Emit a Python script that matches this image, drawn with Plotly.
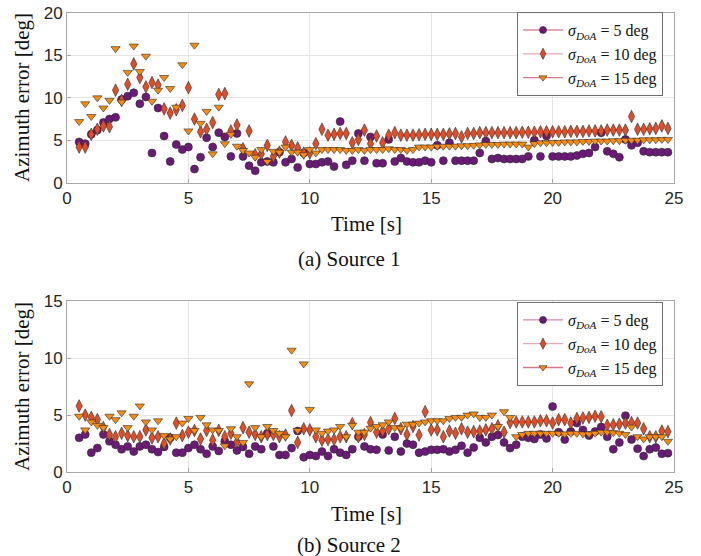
import plotly.graph_objects as go

TIME = [0.5, 0.75,
        1.0, 1.25, 1.5, 1.75, 2.0, 2.25, 2.5, 2.75, 3.0, 3.25, 3.5, 3.75,
        4.0, 4.25, 4.5, 4.75, 5.0, 5.25, 5.5, 5.75, 6.0, 6.25, 6.5, 6.75,
        7.0, 7.25, 7.5, 7.75, 8.0, 8.25, 8.5, 8.75, 9.0, 9.25, 9.5, 9.75,
        10.0, 10.25, 10.5, 10.75, 11.0, 11.25, 11.5, 11.75, 12.0, 12.25, 12.5, 12.75,
        13.0, 13.25, 13.5, 13.75, 14.0, 14.25, 14.5, 14.75, 15.0, 15.25, 15.5, 15.75,
        16.0, 16.25, 16.5, 16.75, 17.0, 17.25, 17.5, 17.75, 18.0, 18.25, 18.5, 18.75,
        19.0, 19.25, 19.5, 19.75, 20.0, 20.25, 20.5, 20.75, 21.0, 21.25, 21.5, 21.75,
        22.0, 22.25, 22.5, 22.75, 23.0, 23.25, 23.5, 23.75, 24.0, 24.25, 24.5, 24.75]

# Source 1
S1_SIGMA5 = [4.8, 4.6,
             5.7, 6.2, 7.1, 7.5, 7.7, 9.8, 10.2, 10.6, 9.3, 10.1, 3.5, 8.8,
             5.5, 2.5, 4.5, 3.9, 4.2, 1.6, 3.0, 5.3, 4.2, 5.9, 5.4, 3.1,
             5.8, 3.1, 2.0, 1.4, 2.4, 2.5, 2.4, 3.6, 2.4, 2.8, 1.8, 3.5,
             2.2, 2.2, 2.4, 2.5, 1.9, 7.2, 2.1, 2.6, 5.8, 2.6, 5.4, 2.3,
             2.3, 5.1, 2.5, 2.9, 2.5, 2.4, 2.4, 2.6, 2.4, 4.4, 2.6, 4.7,
             2.6, 2.6, 2.6, 2.6, 3.5, 4.9, 2.8, 2.9, 2.8, 2.8, 2.8, 2.8,
             3.1, 5.0, 3.1, 5.5, 3.1, 3.1, 3.1, 3.1, 3.2, 3.4, 3.5, 4.2,
             5.9, 3.7, 3.4, 3.0, 5.1, 4.4, 4.7, 3.7, 3.6, 3.6, 3.6, 3.6]
S1_SIGMA10 = [4.2, 4.2,
              5.7, 6.3, 6.7, 6.6, 10.9, 9.7, 11.6, 14.0, 12.4, 11.3, 11.8, 11.5,
              8.7, 8.2, 8.6, 9.1, 11.2, 7.5, 6.0, 6.3, 7.1, 10.4, 10.5, 6.1,
              6.8, 4.0, 6.1, 3.3, 3.4, 4.4, 3.1, 3.6, 4.8, 4.4, 4.1, 3.5,
              3.5, 4.6, 6.3, 5.6, 5.7, 5.8, 5.8, 4.7, 5.1, 6.2, 4.6, 5.5,
              4.7, 5.6, 5.9, 5.6, 5.6, 5.6, 5.65, 5.7, 5.7, 5.7, 5.7, 5.75,
              5.8, 5.4, 5.8, 5.8, 5.9, 5.9, 5.9, 5.9, 5.9, 5.9, 5.9, 5.95,
              5.95, 5.95, 6.0, 6.0, 6.0, 6.0, 6.0, 6.05, 6.05, 6.05, 6.1, 6.1,
              6.1, 6.2, 6.2, 6.2, 6.2, 7.8, 6.3, 6.3, 6.35, 6.4, 6.7, 6.4]
S1_SIGMA15 = [7.2, 9.3,
              7.8, 10.0, 8.8, 9.7, 15.8, 9.5, 13.0, 16.1, 13.1, 14.9, 9.6, 10.9,
              12.4, 11.1, 8.9, 13.9, 6.1, 16.2, 7.0, 8.4, 3.4, 8.9, 4.6, 5.7,
              4.3, 3.8, 3.5, 3.0, 3.9, 2.5, 3.7, 3.6, 4.2, 3.6, 3.6, 3.3,
              3.9, 3.5, 3.9, 3.9, 3.9, 3.9, 3.8, 3.8, 3.9, 3.8, 3.9, 3.9,
              3.9, 4.0, 3.9, 3.9, 3.8, 3.9, 4.2, 4.2, 4.2, 4.3, 4.3, 4.3,
              4.3, 4.35, 4.35, 4.4, 4.45, 4.5, 4.5, 4.5, 4.55, 4.55, 4.55, 4.55,
              4.2, 4.6, 4.7, 4.7, 4.75, 4.75, 4.8, 4.8, 4.8, 4.85, 4.85, 4.9,
              4.9, 4.9, 4.95, 4.95, 5.0, 5.0, 5.0, 5.05, 5.05, 5.05, 5.1, 5.1]

# Source 2
S2_SIGMA5 = [3.0, 3.3,
             1.7, 2.1, 3.3, 2.7, 2.4, 2.0, 2.25, 1.8, 2.25, 2.4, 2.0, 1.75,
             2.2, 3.0, 1.7, 1.7, 2.1, 2.4, 2.0, 1.6, 2.25, 1.85, 2.7, 2.4,
             1.9, 2.2, 1.6, 2.25, 2.0, 3.4, 2.25, 1.5, 1.5, 2.1, 3.6, 1.3,
             1.5, 1.4, 1.8, 1.4, 2.0, 1.7, 1.5, 2.0, 3.1, 2.25, 2.0, 1.95,
             3.3, 1.9, 3.1, 1.8, 2.5, 2.4, 1.7, 1.8, 1.95, 1.95, 2.0, 1.8,
             1.95, 2.3, 1.7, 2.15, 3.0, 2.6, 3.1, 3.25, 2.6, 2.1, 2.4, 3.1,
             3.0, 2.9, 3.3, 2.95, 5.75, 3.5, 2.85, 3.55, 4.3, 3.7, 3.2, 3.55,
             3.95, 3.1, 2.0, 2.6, 4.95, 2.85, 2.05, 1.4, 2.0, 2.15, 1.6, 1.65]
S2_SIGMA10 = [5.8, 5.0,
              4.8, 4.6, 3.9, 3.3, 3.1, 3.4, 3.2, 3.1, 3.1, 3.7, 3.0, 3.1,
              2.5, 2.9, 4.3, 3.2, 3.5, 3.65, 2.9, 3.65, 2.8, 3.65, 3.1, 3.4,
              2.65, 3.9, 3.5, 3.3, 3.1, 3.3, 3.3, 3.1, 3.25, 5.4, 2.6, 3.8,
              3.7, 3.1, 2.8, 2.85, 2.85, 3.1, 3.1, 4.25, 3.1, 3.3, 4.35, 3.5,
              3.6, 3.8, 4.7, 3.8, 3.3, 4.0, 3.25, 5.3, 3.7, 3.7, 3.1, 3.6,
              3.4, 3.8, 3.5, 3.55, 3.6, 3.7, 3.8, 4.05, 3.5, 4.35, 4.4, 4.4,
              4.4, 4.4, 4.5, 4.5, 4.3, 4.6, 4.6, 4.3, 4.7, 4.75, 4.8, 4.9,
              4.85, 4.1, 4.15, 4.2, 4.3, 4.35, 4.3, 3.8, 3.1, 3.1, 3.6, 3.55]
S2_SIGMA15 = [4.9, 3.7,
              4.4, 4.1, 3.9, 4.9, 4.6, 5.2, 3.9, 4.9, 5.8, 4.4, 3.7, 4.5,
              3.2, 2.9, 3.1, 4.3, 4.7, 3.65, 4.8, 4.15, 3.7, 3.65, 2.3, 3.8,
              3.1, 2.6, 7.75, 3.9, 3.1, 4.0, 3.65, 3.4, 3.1, 10.7, 3.65, 9.5,
              5.5, 3.7, 3.4, 3.6, 3.7, 4.0, 3.1, 4.1, 3.5, 3.5, 3.85, 4.0,
              4.15, 4.4, 3.9, 3.85, 4.2, 4.2, 4.3, 4.4, 4.5, 4.5, 4.5, 4.7,
              4.8, 4.8, 5.0, 5.1, 4.8, 4.8, 5.0, 4.0, 5.3, 4.8, 3.1, 3.3,
              3.4, 3.4, 3.4, 3.4, 3.4, 3.4, 3.35, 3.4, 3.4, 3.35, 3.35, 3.4,
              3.5, 3.5, 3.45, 3.4, 3.3, 3.95, 3.1, 2.9, 3.1, 3.1, 3.1, 2.7]

SERIES_NAMES = ["<i>σ</i><sub><i>DoA</i></sub> = 5 deg",
                "<i>σ</i><sub><i>DoA</i></sub> = 10 deg",
                "<i>σ</i><sub><i>DoA</i></sub> = 15 deg"]
FILL = ["#6b1a78", "#e44c26", "#fb8b0c"]
SYMBOLS = ["circle", "diamond-tall", "triangle-down"]
SIZES = [8, 9, 8]
LEGEND_LINE = ["#d98aa2", "#e3aab8", "#d27890"]
X_TICKS = [0, 5, 10, 15, 20, 25]

fig = go.Figure()

panels = [(["x", "y"], [S1_SIGMA5, S1_SIGMA10, S1_SIGMA15], "legend"),
          (["x2", "y2"], [S2_SIGMA5, S2_SIGMA10, S2_SIGMA15], "legend2")]

for (xa, ya), series, leg in panels:
    for i, vals in enumerate(series):
        fig.add_trace(go.Scatter(
            x=TIME, y=vals, mode="markers", xaxis=xa, yaxis=ya,
            showlegend=False,
            marker=dict(symbol=SYMBOLS[i], size=SIZES[i], color=FILL[i],
                        line=dict(color="#2b2b2b", width=0.6))))
    for i in range(3):
        fig.add_trace(go.Scatter(
            x=[None], y=[None], mode="lines+markers", xaxis=xa, yaxis=ya,
            name=SERIES_NAMES[i], legend=leg,
            line=dict(color=LEGEND_LINE[i], width=1.3),
            marker=dict(symbol=SYMBOLS[i], size=SIZES[i] - 1, color=FILL[i],
                        line=dict(color="#2b2b2b", width=0.6))))

axis_common = dict(showgrid=True, gridcolor="#e6e6e6", gridwidth=1,
                   showline=True, linecolor="#a8a8a8", linewidth=1, mirror=True,
                   ticks="inside", ticklen=4, tickcolor="#a8a8a8",
                   zeroline=False, automargin=False, ticklabeloverflow="allow",
                   tickfont=dict(family="Liberation Sans", size=17, color="#262626"))

top_low = 0.6303
bot_high = 0.3719
legend_common = dict(xanchor="right", yanchor="top",
                     bgcolor="white", bordercolor="#6e6e6e", borderwidth=1,
                     font=dict(family="Liberation Serif", size=16, color="#111"),
                     tracegroupgap=0, itemwidth=40)
fig.update_layout(
    width=701, height=556,
    margin=dict(l=67, r=27, t=13, b=84, autoexpand=False),
    paper_bgcolor="white", plot_bgcolor="white",
    xaxis=dict(domain=[0, 1], anchor="y", range=[0, 25], tickvals=X_TICKS, **axis_common),
    yaxis=dict(domain=[top_low, 1], anchor="x", range=[0, 20], dtick=5, **axis_common),
    xaxis2=dict(domain=[0, 1], anchor="y2", range=[0, 25], tickvals=X_TICKS, **axis_common),
    yaxis2=dict(domain=[0, bot_high], anchor="x2", range=[0, 15], dtick=5, **axis_common),
    legend=dict(x=0.9819, y=1.002, **legend_common),
    legend2=dict(x=0.9819, y=0.3704, **legend_common),
)

serif = dict(family="Liberation Serif", size=21, color="#111")
cap = dict(family="Liberation Serif", size=21, color="#111")
ann = [
    dict(text="Time [s]", x=0.494, y=0.5403, font=serif),
    dict(text="Time [s]", x=0.494, y=-0.0906, font=serif),
    dict(text="(a) Source 1", x=0.4646, y=0.4641, font=cap),
    dict(text="(b) Source 2", x=0.4646, y=-0.1590, font=cap),
    dict(text="Azimuth error [deg]", x=-0.0741, y=0.8148, font=serif, textangle=-90),
    dict(text="Azimuth error [deg]", x=-0.0741, y=0.1852, font=serif, textangle=-90),
]
for a in ann:
    fig.add_annotation(xref="paper", yref="paper", showarrow=False,
                       xanchor="center", yanchor="middle", **a)

fig.write_html("out.html", config={"displayModeBar": False},
               post_script="document.body.style.margin='0';")
